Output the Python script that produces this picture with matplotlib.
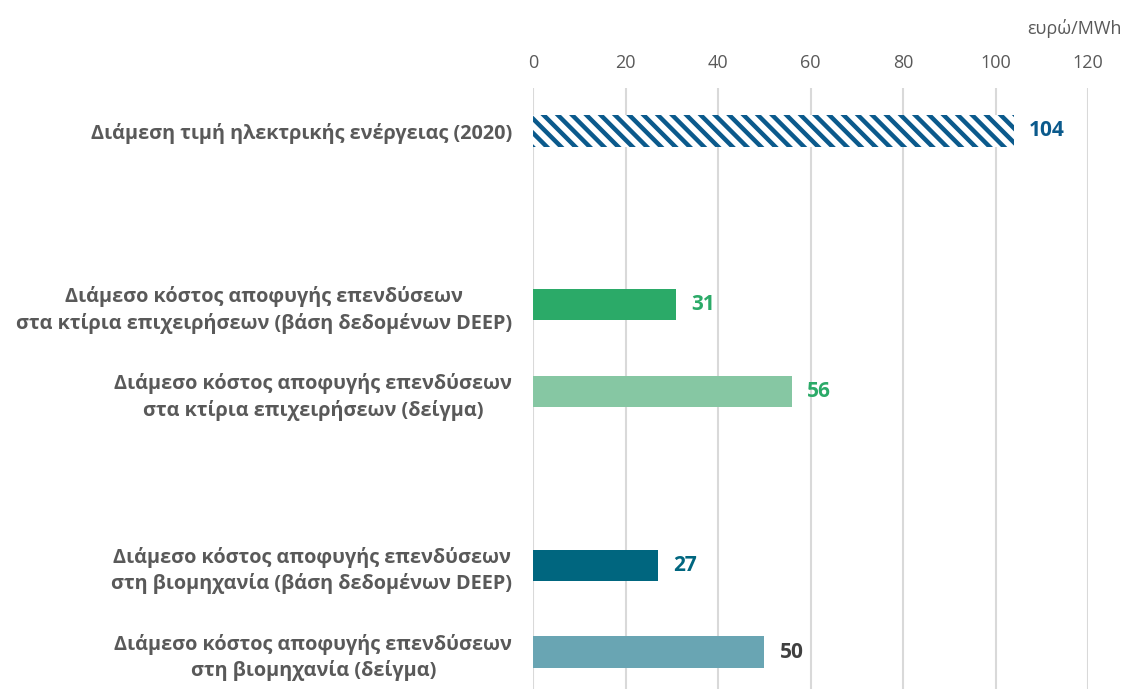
import matplotlib
matplotlib.use("Agg")
import matplotlib.pyplot as plt
from matplotlib.backend_bases import GraphicsContextBase

# denser hatch stripes (approx. 7 per inch)
_orig_hatch = GraphicsContextBase.get_hatch_path
def _hatch_path(self, density=6.0):
    return _orig_hatch(self, density=7.5)
GraphicsContextBase.get_hatch_path = _hatch_path

plt.rcParams['font.family'] = ['Open Sans', 'DejaVu Sans']
plt.rcParams['hatch.linewidth'] = 3.2

categories = [
    "Διάμεση τιμή ηλεκτρικής ενέργειας (2020)",
    "Διάμεσο κόστος αποφυγής επενδύσεων\nστα κτίρια επιχειρήσεων (βάση δεδομένων DEEP)",
    "Διάμεσο κόστος αποφυγής επενδύσεων\nστα κτίρια επιχειρήσεων (δείγμα)",
    "Διάμεσο κόστος αποφυγής επενδύσεων\nστη βιομηχανία (βάση δεδομένων DEEP)",
    "Διάμεσο κόστος αποφυγής επενδύσεων\nστη βιομηχανία (δείγμα)",
]
values = [104, 31, 56, 27, 50]
positions = [0, 2, 3, 5, 6]
bar_colors = ['white', '#2BAA68', '#86C7A3', '#00667F', '#69A5B3']
edge_colors = ['#0B5A8C', '#2BAA68', '#86C7A3', '#00667F', '#69A5B3']
hatches = ['\\\\', None, None, None, None]
label_colors = ['#0B5A8C', '#2BAA68', '#2BAA68', '#00667F', '#404040']
xticks = [0, 20, 40, 60, 80, 100, 120]
unit_label = "ευρώ/MWh"

fig = plt.figure(figsize=(11.25, 6.89), dpi=100)
ax = fig.add_axes([533/1125, -6.5/689, 555/1125, 608/689])

for p, v, fc, ec, h, lc in zip(positions, values, bar_colors, edge_colors, hatches, label_colors):
    ax.barh(p, v, height=0.36, color=fc, edgecolor=ec, hatch=h, linewidth=0, zorder=3)
    ax.annotate(str(v), xy=(v, p), xytext=(11, 0), textcoords='offset points',
                ha='left', va='center', fontsize=15, fontweight='bold', color=lc)

ax.set_xlim(0, 120)
ax.set_ylim(6.5, -0.5)
ax.set_xticks(xticks)
ax.xaxis.tick_top()
ax.tick_params(axis='x', length=0, pad=11, labelsize=13, labelcolor='#595959')
ax.set_yticks(positions)
ax.set_yticklabels(categories, fontsize=14.3, fontweight='bold', color='#595959',
                   multialignment='center', linespacing=1.35)
ax.tick_params(axis='y', length=0, pad=15)
ax.grid(axis='x', color='#D9D9D9', linewidth=1.5, zorder=0)
ax.set_axisbelow(True)
for s in ax.spines.values():
    s.set_visible(False)

fig.text(1122/1125, 1 - 29/689, unit_label, ha='right', va='center',
         fontsize=13, color='#595959')

fig.savefig("out.png", dpi=100)
